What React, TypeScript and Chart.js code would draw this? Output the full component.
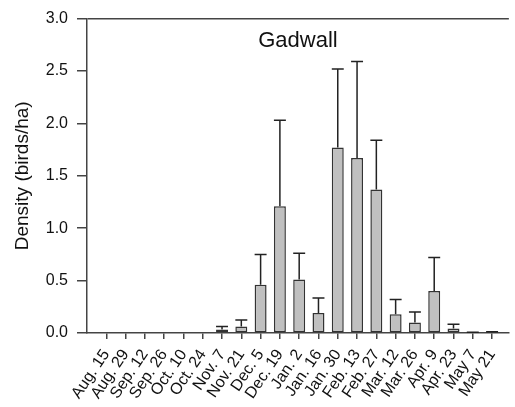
import React, { useEffect, useRef } from "react";
import { Chart, registerables } from "chart.js";

Chart.register(...registerables);

const dates = [
  "Aug. 15", "Aug. 29", "Sep. 12", "Sep. 26", "Oct. 10", "Oct. 24", "Nov. 7",
  "Nov. 21", "Dec. 5", "Dec. 19", "Jan. 2", "Jan. 16", "Jan. 30", "Feb. 13",
  "Feb. 27", "Mar. 12", "Mar. 26", "Apr. 9", "Apr. 23", "May 7", "May 21",
];
const density = [
  0, 0, 0, 0, 0, 0, 0.034, 0.062, 0.46, 1.21, 0.51, 0.19, 1.77, 1.67, 1.37,
  0.18, 0.1, 0.4, 0.044, 0.004, 0.008,
];
const stdError = [
  0, 0, 0, 0, 0, 0, 0.028, 0.062, 0.29, 0.82, 0.25, 0.145, 0.75, 0.92, 0.47,
  0.14, 0.1, 0.32, 0.04, 0.002, 0.004,
];
const yTicks = [0, 0.5, 1.0, 1.5, 2.0, 2.5, 3.0];
const chartTitle = "Gadwall";
const yAxisTitle = "Density (birds/ha)";

const FONT = '"Liberation Sans", Arial, Helvetica, sans-serif';

const errorBarPlugin = {
  id: "errorBars",
  afterDatasetsDraw(chart: any) {
    const { ctx, scales } = chart;
    const xs = scales.x;
    const ys = scales.y;
    const meta = chart.getDatasetMeta(0);
    ctx.save();
    ctx.strokeStyle = "#222";
    ctx.lineWidth = 1.5;
    density.forEach((v, i) => {
      const se = stdError[i];
      if (!(se > 0)) return;
      const bar = meta.data[i];
      const px = xs.getPixelForValue(i);
      const top = ys.getPixelForValue(v + se);
      const base = ys.getPixelForValue(v);
      const half = (bar && bar.width ? bar.width : 12) / 2;
      ctx.beginPath();
      ctx.moveTo(px, base);
      ctx.lineTo(px, top);
      ctx.moveTo(px - half, top);
      ctx.lineTo(px + half, top);
      ctx.stroke();
    });
    ctx.restore();
  },
};

const innerTitlePlugin = {
  id: "innerTitle",
  afterDraw(chart: any) {
    const { ctx, chartArea } = chart;
    ctx.save();
    ctx.font = `22px ${FONT}`;
    ctx.fillStyle = "#111";
    ctx.textAlign = "center";
    ctx.textBaseline = "alphabetic";
    ctx.fillText(chartTitle, (chartArea.left + chartArea.right) / 2, chartArea.top + 28);
    ctx.restore();
  },
};

export default function App() {
  const canvasRef = useRef<HTMLCanvasElement | null>(null);

  useEffect(() => {
    if (!canvasRef.current) return;
    const chart = new Chart(canvasRef.current, {
      type: "bar",
      data: {
        datasets: [
          {
            label: chartTitle,
            data: density.map((v, i) => ({ x: i, y: v })),
            backgroundColor: "#c0c0c0",
            borderColor: "#333",
            borderWidth: 1.5,
            borderSkipped: false,
            barPercentage: 0.62,
            categoryPercentage: 1,
          },
        ],
      },
      options: {
        responsive: false,
        animation: false,
        devicePixelRatio: 1,
        layout: { padding: { top: 10, right: 0, left: 0, bottom: 0 } },
        plugins: {
          legend: { display: false },
          tooltip: { enabled: false },
          title: { display: false },
        },
        scales: {
          x: {
            type: "linear",
            min: -1,
            max: 20.87,
            offset: false,
            afterBuildTicks: (s: any) => {
              s.ticks = dates.map((_, i) => ({ value: i }));
            },
            afterFit: (s: any) => {
              s.height = 74;
            },
            ticks: {
              autoSkip: false,
              minRotation: 56,
              maxRotation: 56,
              padding: 7,
              color: "#111",
              font: { size: 16, family: FONT },
              callback: (_v: any, idx: number) => dates[idx] ?? "",
            },
            grid: {
              offset: false,
              drawOnChartArea: false,
              drawTicks: true,
              tickLength: 6,
              color: "#444",
              lineWidth: 1.5,
            },
            border: { display: true, color: "#444", width: 1.5 },
          },
          y: {
            min: 0,
            max: 3,
            afterBuildTicks: (s: any) => {
              s.ticks = yTicks.map((v) => ({ value: v }));
            },
            afterFit: (s: any) => {
              s.width = 87;
            },
            ticks: {
              padding: 9,
              color: "#111",
              font: { size: 16, family: FONT },
              callback: (v: any) => Number(v).toFixed(1),
            },
            grid: {
              drawOnChartArea: true,
              drawTicks: true,
              tickLength: 10,
              color: (c: any) =>
                c.tick && c.tick.value === 3 ? "#444" : "rgba(0,0,0,0)",
              tickColor: "#444",
              lineWidth: 1.5,
            },
            border: { display: true, color: "#444", width: 1.5 },
            title: {
              display: true,
              text: yAxisTitle,
              color: "#111",
              font: { size: 19, family: FONT },
              padding: { top: 11, bottom: 0 },
            },
          },
        },
      },
      plugins: [errorBarPlugin, innerTitlePlugin],
    } as any);
    return () => chart.destroy();
  }, []);

  return (
    <div style={{ position: "fixed", left: 0, top: 0, width: 515, height: 407, background: "#fff" }}>
      <canvas ref={canvasRef} width={515} height={407} style={{ display: "block" }} />
    </div>
  );
}
